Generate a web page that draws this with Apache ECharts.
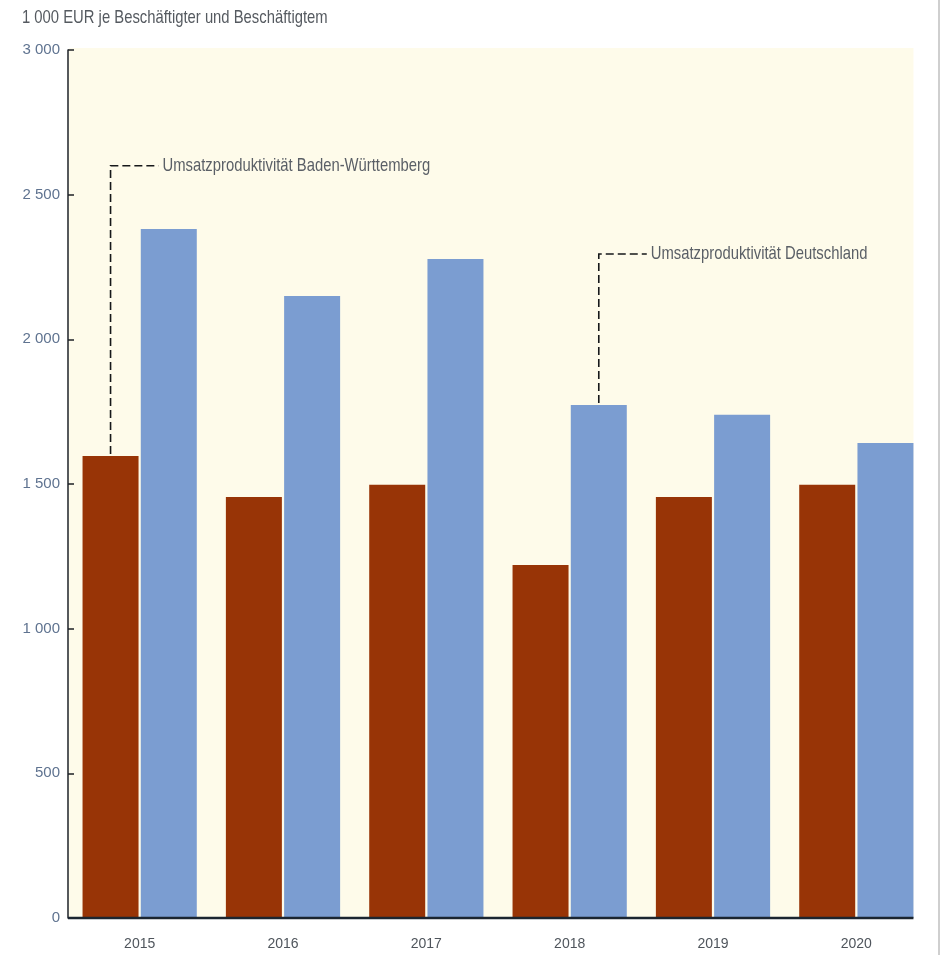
<!DOCTYPE html>
<html>
<head>
<meta charset="utf-8">
<script src="https://cdn.jsdelivr.net/npm/echarts@6/dist/echarts.min.js"></script>
<style>
  html, body { margin: 0; padding: 0; background: #ffffff; }
  #chart { width: 944px; height: 955px; }
</style>
</head>
<body>
<div id="chart"></div>
<script>
// Sales productivity, 1 000 EUR per employee
const years = ['2015', '2016', '2017', '2018', '2019', '2020'];
const productivityBW = [1597, 1455, 1497, 1220, 1455, 1497];
const productivityDE = [2381, 2150, 2278, 1773, 1739, 1642];
const yTicks = [0, 500, 1000, 1500, 2000, 2500, 3000];

const unitLabel = '1 000 EUR je Beschäftigter und Beschäftigtem';
const seriesNameBW = 'Umsatzproduktivität Baden-Württemberg';
const seriesNameDE = 'Umsatzproduktivität Deutschland';

// Callout anchors: which bar, and the value height of the elbow
const calloutBW = { series: 0, index: 0, elbow: 2600 };
const calloutDE = { series: 1, index: 3, elbow: 2295 };

const FONT = '"Liberation Sans", Arial, sans-serif';
const COLOR_BW = '#983406';
const COLOR_DE = '#7b9dd1';
// Condensed look for the free-standing texts
const NARROW = 0.78;

const chart = echarts.init(document.getElementById('chart'), null, { renderer: 'canvas' });

const fmt = v => String(v).replace(/\B(?=(\d{3})+(?!\d))/g, ' ');

chart.setOption({
  animation: false,
  backgroundColor: '#ffffff',
  grid: { left: 68, right: 16, top: 50, bottom: 37, containLabel: false },
  xAxis: {
    type: 'category',
    data: years,
    axisLine: { show: false },
    axisTick: { show: false },
    axisLabel: { fontFamily: FONT, fontSize: 14, color: '#4f555c', margin: 19 }
  },
  yAxis: {
    type: 'value',
    min: yTicks[0], max: yTicks[yTicks.length - 1], interval: 500,
    axisLine: { show: true, lineStyle: { color: '#1e2226', width: 1.5 } },
    axisTick: { show: true, inside: true, length: 6, lineStyle: { color: '#1e2226', width: 1.5 } },
    splitLine: { show: false },
    axisLabel: { fontFamily: FONT, fontSize: 15, color: '#5f7390', margin: 8, formatter: fmt }
  },
  series: [
    {
      name: seriesNameBW, type: 'bar', data: productivityBW,
      barWidth: 56, barGap: '4%',
      itemStyle: { color: COLOR_BW }
    },
    {
      name: seriesNameDE, type: 'bar', data: productivityDE,
      barWidth: 56,
      itemStyle: { color: COLOR_DE }
    }
  ]
});

// Plot background, baseline and callouts drawn from the computed bar layout
function barTop(seriesIndex, idx) {
  const lay = chart.getModel().getSeriesByIndex(seriesIndex).getData().getItemLayout(idx);
  return { cx: lay.x + lay.width / 2, top: Math.min(lay.y, lay.y + lay.height), right: lay.x + lay.width };
}

function buildGraphics() {
  const gridRect = chart.getModel().getComponent('grid', 0).coordinateSystem.getRect();
  const lastBar = barTop(1, years.length - 1);
  const plotRight = lastBar.right;
  const yBase = chart.convertToPixel({ yAxisIndex: 0 }, 0);
  const yTop = chart.convertToPixel({ yAxisIndex: 0 }, yTicks[yTicks.length - 1]);

  const elements = [
    {
      type: 'rect', z: -10, silent: true,
      shape: { x: gridRect.x + 1, y: yTop - 2, width: plotRight - gridRect.x - 1, height: yBase - yTop + 2 },
      style: { fill: '#fefbea' }
    },
    {
      type: 'line', z: 100, silent: true,
      shape: { x1: gridRect.x, y1: yBase, x2: plotRight, y2: yBase },
      style: { stroke: '#1b2530', lineWidth: 2.5 }
    },
    {
      type: 'line', z: 100, silent: true,
      shape: { x1: 939, y1: 0, x2: 939, y2: 955 },
      style: { stroke: '#cfcfcf', lineWidth: 2 }
    },
    {
      type: 'text', z: 50, silent: true,
      x: 22, y: 18, scaleX: NARROW,
      style: {
        text: unitLabel, fontFamily: FONT, fontSize: 19, fill: '#555a60',
        verticalAlign: 'middle', align: 'left'
      }
    }
  ];

  [[calloutBW, seriesNameBW], [calloutDE, seriesNameDE]].forEach(([c, label]) => {
    const b = barTop(c.series, c.index);
    const yE = chart.convertToPixel({ yAxisIndex: 0 }, c.elbow);
    const xEnd = b.cx + 48;
    elements.push({
      type: 'polyline', z: 50, silent: true,
      shape: { points: [[b.cx, b.top - 2], [b.cx, yE], [xEnd, yE]] },
      style: { stroke: '#16181a', lineWidth: 1.6, lineDash: [8, 4], fill: null }
    });
    elements.push({
      type: 'text', z: 50, silent: true,
      x: xEnd + 4, y: yE, scaleX: NARROW,
      style: {
        text: label, fontFamily: FONT, fontSize: 19, fill: '#5a5f66',
        verticalAlign: 'middle', align: 'left'
      }
    });
  });

  chart.setOption({ graphic: { elements } });
}

buildGraphics();
</script>
</body>
</html>
